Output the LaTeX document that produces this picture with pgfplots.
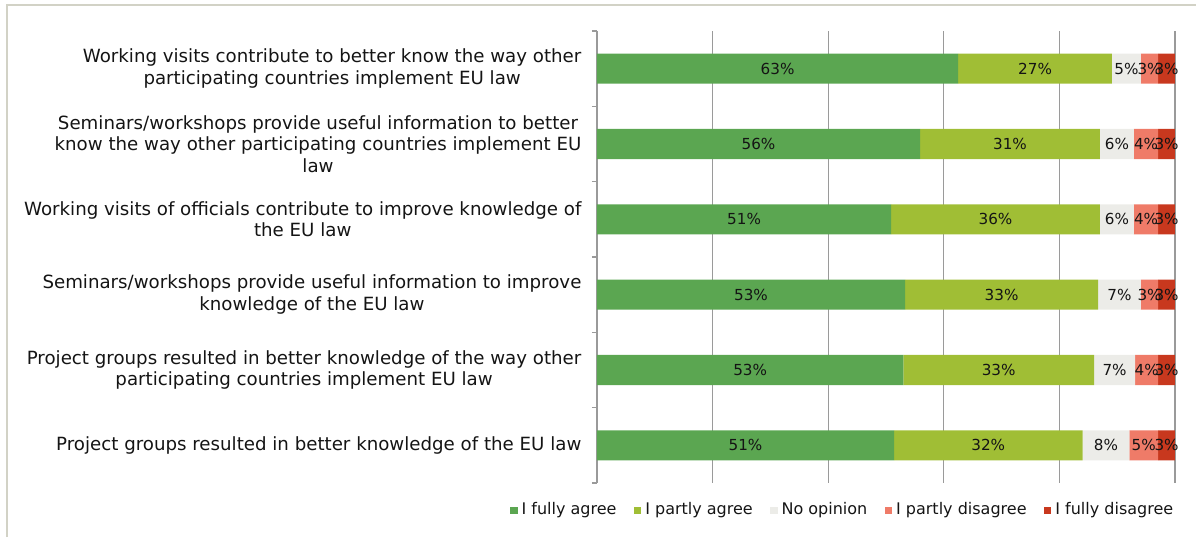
\documentclass[border=0pt]{standalone}
\usepackage{pgfplots}
\usepackage{pgfplotstable}
\usepackage{fontspec}
\setmainfont{DejaVu Sans}
\pgfplotsset{compat=1.18}

\definecolor{cfa}{HTML}{5BA651}
\definecolor{cpa}{HTML}{A0BE35}
\definecolor{cno}{HTML}{ECECE8}
\definecolor{cpd}{HTML}{EF7B68}
\definecolor{cfd}{HTML}{C8381E}
\definecolor{gridc}{HTML}{9A9A9A}
\definecolor{framec}{HTML}{D2D2C6}

% shares in percent, bar lengths; l* = printed labels
\pgfplotstableread{
y fa pa no pd fd lfa lpa lno lpd lfd
0 62.5 26.6 5.0 3.0 2.9 63 27 5 3 3
1 55.9 31.1 5.9 4.2 2.9 56 31 6 4 3
2 50.9 36.1 5.9 4.2 2.9 51 36 6 4 3
3 53.3 33.4 7.4 3.0 2.9 53 33 7 3 3
4 53.0 33.0 7.1 4.0 2.9 53 33 7 4 3
5 51.4 32.6 8.1 5.0 2.9 51 32 8 5 3
}\survey

\begin{document}
\begin{tikzpicture}
\path[use as bounding box] (0pt,0pt) rectangle (598pt,-268.5pt);
\draw[framec, line width=1pt] (3.5pt,-268.5pt) -- (3.5pt,-2.5pt) -- (598pt,-2.5pt);
\begin{axis}[
    at={(298.5pt,-241.5pt)}, anchor=south west,
    width=289pt, height=226pt, scale only axis,
    xbar stacked, bar width=0.4,
    xmin=0, xmax=100, ymin=-0.5, ymax=5.5, y dir=reverse,
    xtick={0,20,...,100}, xticklabels={},
    xmajorgrids, grid style={gridc, line width=0.6pt},
    axis x line*=bottom, x axis line style={draw=none},
    x tick style={draw=none},
    axis y line*=left, y axis line style={gridc, line width=0.6pt},
    ytick={0,...,5},
    y tick style={draw=none},
    minor ytick={-0.5,0.5,...,5.5},
    minor y tick style={draw=gridc, line width=0.6pt},
    minor tick length=2.5pt, tick align=outside,
    yticklabels={
      {Working visits contribute to better know the way other\\participating countries implement EU law},
      {Seminars/workshops provide useful information to better\\know the way other participating countries implement EU\\law},
      {Working visits of officials contribute to improve knowledge of\\the EU law},
      {Seminars/workshops provide useful information to improve\\knowledge of the EU law},
      {Project groups resulted in better knowledge of the way other\\participating countries implement EU law},
      {Project groups resulted in better knowledge of the EU law}},
    yticklabel style={align=center, font=\fontsize{9.1}{10.8}\selectfont, text=black!92, xshift=0pt},
    point meta=explicit symbolic,
    nodes near coords={\pgfplotspointmeta\%},
    every node near coord/.append style={anchor=center, font=\fontsize{7.6}{9}\selectfont, text=black!92},
    legend style={at={(-0.1505,-0.06)}, anchor=west, draw=none, fill=none,
        inner sep=0pt, font=\fontsize{8}{9}\selectfont, text=black!92,
        /tikz/every even column/.append style={column sep=6.8pt}},
    legend columns=-1,
    legend image code/.code={\fill[#1] (0pt,-1.8pt) rectangle (3.6pt,1.8pt);},
]
\addplot[fill=cfa, draw=none] table[x=fa, y=y, meta=lfa] {\survey};
\addplot[fill=cpa, draw=none] table[x=pa, y=y, meta=lpa] {\survey};
\addplot[fill=cno, draw=none] table[x=no, y=y, meta=lno] {\survey};
\addplot[fill=cpd, draw=none] table[x=pd, y=y, meta=lpd] {\survey};
\addplot[fill=cfd, draw=none] table[x=fd, y=y, meta=lfd] {\survey};
\legend{I fully agree, I partly agree, No opinion, I partly disagree, I fully disagree}
\end{axis}
\end{tikzpicture}
\end{document}
